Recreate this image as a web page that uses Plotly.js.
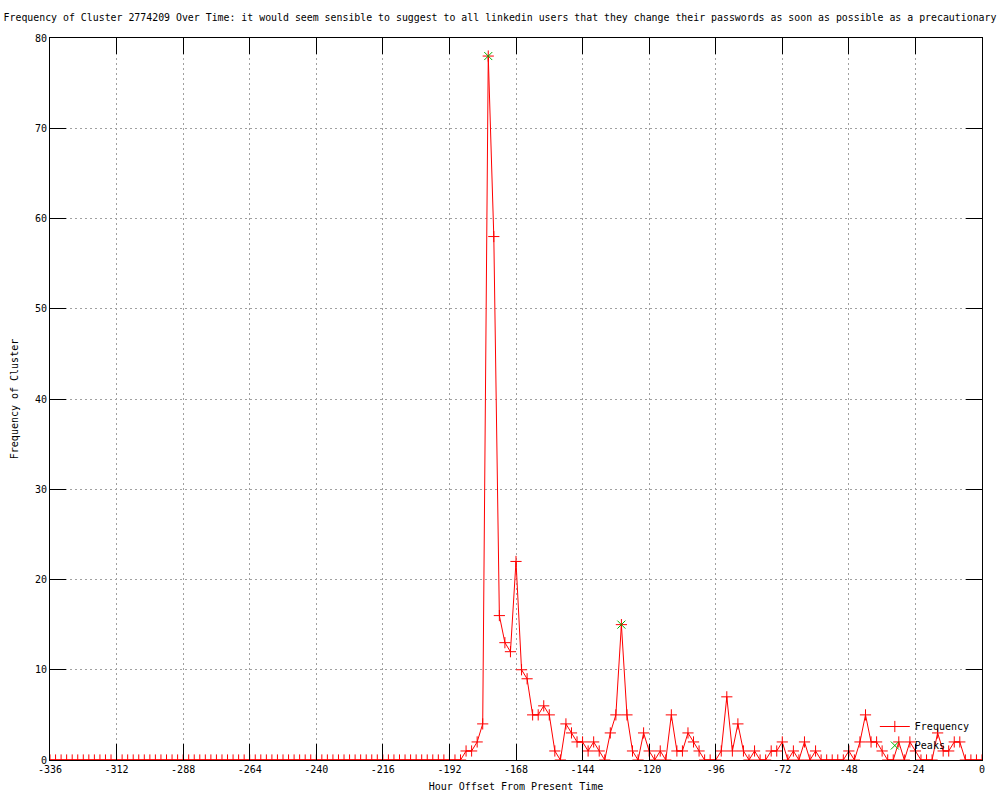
<!DOCTYPE html>
<html>
<head>
<meta charset="utf-8">
<script src="https://cdn.plot.ly/plotly-3.0.1.min.js"></script>
<style>html,body{margin:0;padding:0;background:#fff;}#chart{width:1000px;height:800px;}</style>
</head>
<body>
<div id="chart"></div>
<script>
// Hour offsets (every 2 hours)
const hours = [
 -336,-334,-332,-330,-328,-326,-324,-322,-320,-318,
 -316,-314,-312,-310,-308,-306,-304,-302,-300,-298,
 -296,-294,-292,-290,-288,-286,-284,-282,-280,-278,
 -276,-274,-272,-270,-268,-266,-264,-262,-260,-258,
 -256,-254,-252,-250,-248,-246,-244,-242,-240,-238,
 -236,-234,-232,-230,-228,-226,-224,-222,-220,-218,
 -216,-214,-212,-210,-208,-206,-204,-202,-200,-198,
 -196,-194,-192,-190,-188,
 -186,-184,-182,-180,-178,-176,-174,-172,-170,-168,
 -166,-164,-162,-160,-158,-156,-154,-152,-150,-148,
 -146,-144,-142,-140,-138,-136,-134,-132,-130,-128,
 -126,-124,-122,-120,-118,-116,-114,-112,-110,-108,
 -106,-104,-102,-100,-98,-96,-94,-92,-90,-88,
 -86,-84,-82,-80,-78,-76,-74,-72,-70,-68,
 -66,-64,-62,-60,-58,-56,-54,-52,-50,-48,
 -46,-44,-42,-40,-38,-36,-34,-32,-30,-28,
 -26,-24,-22,-20,-18,-16,-14,-12,-10,-8,
 -6,-4,-2,0
];
// Frequency of cluster at each hour offset
const frequency = [
 0,0,0,0,0,0,0,0,0,0,
 0,0,0,0,0,0,0,0,0,0,
 0,0,0,0,0,0,0,0,0,0,
 0,0,0,0,0,0,0,0,0,0,
 0,0,0,0,0,0,0,0,0,0,
 0,0,0,0,0,0,0,0,0,0,
 0,0,0,0,0,0,0,0,0,0,
 0,0,0,0,0,
 1,1,2,4,78,58,16,13,12,22,
 10,9,5,5,6,5,1,0,4,3,
 2,2,1,2,1,0,3,5,15,5,
 1,0,3,1,0,1,0,5,1,1,
 3,2,1,0,0,0,1,7,1,4,
 1,0,1,0,0,1,1,2,0,1,
 0,2,0,1,0,0,0,0,0,1,
 0,2,5,2,2,1,0,0,2,0,
 2,1,0,0,0,3,1,1,2,2,
 0,0,0,0
];
// Peaks
const peakHours = [-178, -130];
const peakValues = [78, 15];

// Tick labels
const xTickVals = [-336,-312,-288,-264,-240,-216,-192,-168,-144,-120,-96,-72,-48,-24,0];
const xTickText = ["-336","-312","-288","-264","-240","-216","-192","-168","-144","-120","-96","-72","-48","-24","0"];
const yTickVals = [0,10,20,30,40,50,60,70,80];

const FONT = "DejaVu Sans Mono, Liberation Mono, monospace";

const traces = [
  {
    x: hours, y: frequency, name: "Frequency",
    type: "scatter", mode: "lines+markers",
    line: {color: "#ff0000", width: 1},
    marker: {symbol: "cross-thin-open", size: 8, color: "#ff0000", line: {color: "#ff0000", width: 1}}
  },
  {
    x: peakHours, y: peakValues, name: "Peaks",
    type: "scatter", mode: "markers",
    marker: {symbol: "x-thin-open", size: 8, color: "#00b000", line: {color: "#00b000", width: 1}}
  }
];

const layout = {
  width: 1000, height: 800,
  paper_bgcolor: "#ffffff", plot_bgcolor: "#ffffff",
  margin: {l: 50, r: 18, t: 38, b: 40},
  font: {family: FONT, size: 10, color: "#000000"},
  title: {
    text: "Frequency of Cluster 2774209 Over Time: it would seem sensible to suggest to all linkedin users that they change their passwords as soon as possible as a precautionary",
    font: {family: FONT, size: 9.9, color: "#000000"},
    x: 0.5, xref: "container", xanchor: "center",
    y: 0.978, yref: "container", yanchor: "middle"
  },
  xaxis: {
    range: [-336, 0],
    tickmode: "array", tickvals: xTickVals, ticktext: xTickText,
    ticks: "inside", ticklen: 16, tickcolor: "#000000", tickwidth: 1,
    showline: true, linecolor: "#000000", linewidth: 1, mirror: "ticks",
    showgrid: true, gridcolor: "#a0a0a0", gridwidth: 1, griddash: "2px,3px",
    zeroline: false,
    tickfont: {family: FONT, size: 10, color: "#000000"},
    title: {text: "Hour Offset From Present Time", font: {family: FONT, size: 10, color: "#000000"}, standoff: 8}
  },
  yaxis: {
    range: [0, 80],
    tickmode: "array", tickvals: yTickVals,
    ticks: "inside", ticklen: 16, tickcolor: "#000000", tickwidth: 1,
    showline: true, linecolor: "#000000", linewidth: 1, mirror: "ticks",
    showgrid: true, gridcolor: "#a0a0a0", gridwidth: 1, griddash: "2px,3px",
    zeroline: false,
    tickfont: {family: FONT, size: 10, color: "#000000"},
    title: {text: "Frequency of Cluster", font: {family: FONT, size: 10, color: "#000000"}, standoff: 14}
  },
  showlegend: true,
  legend: {
    x: 0.885, xanchor: "left", y: 0.0, yanchor: "bottom",
    bgcolor: "rgba(0,0,0,0)", borderwidth: 0,
    font: {family: FONT, size: 10, color: "#000000"},
    itemwidth: 30
  }
};

Plotly.newPlot("chart", traces, layout, {displayModeBar: false, staticPlot: true});
</script>
</body>
</html>
